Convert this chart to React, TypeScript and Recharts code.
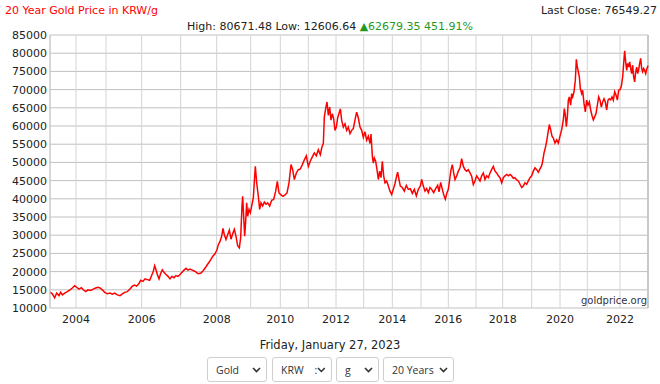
import { CartesianGrid, Line, LineChart, ReferenceLine, XAxis, YAxis } from "recharts";

// x is a running sample number along the chart (the source plots by session, not by calendar)
const sessions = [
  0, 7, 14, 20, 27, 32, 37, 44, 52, 60, 67, 74, 80, 87, 94, 100, 107, 114, 122, 130,
  137, 144, 150, 157, 164, 172, 180, 187, 194, 202, 210, 217, 224, 232, 240, 247, 254, 260, 267, 272,
  279, 285, 292, 299, 304, 310, 314, 318, 322, 327, 332, 337, 342, 348, 354, 360, 366, 372, 378, 384,
  390, 396, 402, 408, 414, 420, 427, 434, 442,
  445, 453, 460, 467, 475, 482, 489, 495, 501, 505, 510, 515, 519, 523, 528, 533, 538, 543, 548,
  553, 558, 563, 568, 572, 576, 578, 581, 584, 587, 590, 593, 597, 601, 605, 610, 614, 616, 620, 625,
  629, 633, 638, 643, 648, 653, 659, 665, 671, 677, 682, 687, 693, 699, 705, 711, 717, 723, 728, 733,
  739, 745, 751, 757, 763, 769, 775, 781, 787, 793, 799, 805, 811, 816, 820, 823, 827, 831, 835, 839,
  843, 847, 851, 855, 859, 863, 867, 871, 875, 880, 885,
  890, 895, 900, 905, 910, 915, 920, 925, 930, 935, 940, 945, 950, 955, 960, 963, 967, 970, 973, 977,
  981, 985, 989, 993, 997, 1001, 1005, 1010, 1015, 1020, 1025, 1030, 1035, 1040, 1043, 1047, 1051, 1057, 1063, 1069,
  1075, 1081, 1087, 1093, 1099, 1105, 1111, 1115, 1120, 1125, 1130, 1135, 1140, 1145, 1151, 1157, 1163, 1167, 1172, 1177,
  1182, 1186, 1191, 1195, 1199, 1203, 1207, 1211, 1215, 1220, 1225, 1230, 1235, 1240, 1245, 1250, 1255, 1260, 1265, 1270,
  1275, 1280, 1285, 1290, 1295, 1300, 1305, 1310, 1315, 1320, 1325, 1330, 1335, 1340, 1345,
  1350, 1355, 1360, 1365, 1370, 1375, 1380, 1385, 1390, 1395, 1400, 1405, 1410, 1415, 1420, 1425, 1430, 1435, 1440, 1445,
  1450, 1455, 1460, 1465, 1470, 1475, 1478, 1482, 1486, 1490, 1494, 1498, 1502, 1506, 1510, 1515, 1520, 1525, 1530, 1535,
  1540, 1543, 1546, 1549, 1552, 1555, 1558, 1562, 1565, 1568, 1572, 1576, 1579, 1582, 1585, 1588, 1591, 1595, 1598, 1602,
  1606, 1610, 1614, 1618, 1622, 1626, 1630, 1634, 1638, 1642, 1646, 1650, 1654, 1658, 1662, 1666, 1670, 1674, 1678, 1682,
  1686, 1690, 1694, 1698, 1702, 1706, 1710, 1714, 1718, 1721, 1724, 1727, 1730, 1733, 1736, 1739, 1742, 1745, 1748, 1751,
  1754, 1757, 1760, 1763, 1766, 1769, 1772, 1775, 1778, 1781, 1784, 1787, 1790, 1794,
];

const prices = [
  14360, 13900, 12800, 14100, 13400, 14300, 13600, 14100, 14500, 15000, 15500, 16100, 15700, 15200, 15600, 15000, 14500, 15000, 14800, 15200,
  15500, 15700, 15500, 15000, 14300, 13900, 14100, 13800, 14100, 13600, 13400, 13900, 14300, 14500, 15200, 16000, 16300, 16000, 16700, 17600,
  17300, 18000, 17800, 17600, 18700, 20100, 21600, 20500, 19200, 18000, 19500, 20500, 19800, 19200, 18700, 18000, 18700, 18300, 18900, 18700,
  19200, 19800, 20400, 20900, 20400, 20700, 20400, 20100, 19600,
  19400, 19600, 20300, 21200, 22300, 23200, 24300, 24900, 26000, 27400, 28300, 29700, 31900, 30100, 28800, 30100, 31400, 28900, 30400,
  31600, 29700, 27100, 26500, 29300, 38000, 40700, 35200, 29700, 33800, 38900, 35200, 37100, 36200, 38000, 40300, 46300, 48900, 44400, 40700,
  37100, 38900, 38000, 39100, 38500, 38900, 38000, 39600, 39800, 42100, 44800, 41600, 41100, 40700, 41100, 41600, 44400, 49400, 48000, 45300,
  47100, 48000, 48200, 49400, 50700, 51800, 48900, 50400, 51500, 52600, 51800, 53500, 52100, 54300, 55200, 62500, 64800, 66600, 62900, 65200,
  61600, 63400, 62000, 58800, 59700, 62200, 63500, 64700, 61600, 59700, 60600,
  58800, 59700, 57900, 58800, 59300, 61700, 63800, 62200, 59700, 58800, 56900, 58400, 56100, 57200, 55200, 57800, 51700, 49800, 51200, 50300,
  48000, 45300, 47600, 45800, 50300, 46300, 44400, 44900, 43500, 42100, 41200, 42600, 44200, 46300, 47300, 45300, 43500, 43100, 42100, 43700,
  42600, 42800, 41500, 42600, 40800, 42600, 43500, 45300, 43500, 42100, 42800, 41700, 43100, 42600, 41700, 42800, 43700, 41900, 44500, 42600,
  40900, 39900, 41700, 42600, 45300, 48000, 49400, 47100, 45300, 46300, 47600, 48500, 51000, 48900, 48000, 47600, 48000, 47100, 46200, 43900,
  44900, 46300, 45600, 44900, 46300, 47100, 45300, 46300, 45800, 47100, 48000, 48900, 47600, 47100, 46300,
  45800, 44400, 45800, 46300, 46700, 46300, 46700, 46300, 45600, 45800, 45200, 44900, 44000, 43100, 43500, 44400, 44000, 44900, 45800, 46300,
  47600, 48500, 48000, 47300, 48200, 49100, 50300, 52600, 54000, 55800, 58100, 60400, 59000, 57200, 56700, 55300, 56200, 55300, 57200, 59000,
  61700, 64800, 63000, 59800, 62500, 67100, 68000, 65700, 68900, 68000, 69400, 72600, 78300, 76200, 74900, 73500, 70300, 68900, 69800, 66200,
  63900, 67100, 65700, 66600, 64400, 62900, 61700, 62500, 63400, 65700, 68000, 67100, 65200, 66600, 67500, 66600, 64400, 67100, 67500, 67200,
  68000, 67100, 69400, 68500, 67100, 69800, 70000, 70900, 73500, 77200, 80671, 77600, 75300, 77200, 76200, 77600, 75800, 74400, 76700, 73500,
  72100, 74800, 76200, 74400, 75500, 77200, 78600, 75800, 74900, 75800, 75300, 74400, 75500, 76549,
];

const years = [2004, 2005, 2006, 2007, 2008, 2009, 2010, 2011, 2012, 2013, 2014, 2015, 2016, 2017, 2018, 2019, 2020, 2021, 2022];
const yearStartSessions = [78, 168, 275, 392, 500, 602, 691, 775, 858, 941, 1027, 1113, 1195, 1278, 1358, 1445, 1530, 1612, 1710];
const lastSession = 1794;

const priceTicks = [10000, 15000, 20000, 25000, 30000, 35000, 40000, 45000, 50000, 55000, 60000, 65000, 70000, 75000, 80000, 85000];

const data = sessions.map((s, i) => ({ session: s, price: prices[i] }));

const FONT = "'DejaVu Sans', Verdana, sans-serif";
const tickStyle = { fontFamily: FONT, fontSize: 11, fill: "#222" };

function yearLabel(session: number) {
  const i = yearStartSessions.indexOf(session);
  if (i < 0) return "";
  return years[i] % 2 === 0 ? String(years[i]) : "";
}

function Chevron() {
  return (
    <svg width="9" height="6" viewBox="0 0 9 6" style={{ display: "block" }}>
      <polyline points="1,1 4.5,4.5 8,1" fill="none" stroke="#333" strokeWidth="1.6" />
    </svg>
  );
}

function FakeSelect({ left, width, label }: { left: number; width: number; label: string }) {
  return (
    <div
      style={{
        position: "absolute",
        left,
        top: 357,
        width,
        height: 25,
        boxSizing: "border-box",
        border: "1px solid #cfcfcf",
        borderRadius: 3,
        background: "#fff",
        display: "flex",
        alignItems: "center",
        justifyContent: "space-between",
        padding: "0 5px 0 8px",
        fontFamily: "'Open Sans', sans-serif",
        fontSize: 10.5,
        color: "#333",
        whiteSpace: "pre",
      }}
    >
      <span>{label}</span>
      <Chevron />
    </div>
  );
}

export default function App() {
  return (
    <div style={{ position: "absolute", left: 0, top: 0, width: 660, height: 384, background: "#fff", fontFamily: FONT }}>
      <div style={{ position: "absolute", left: 5, top: 4, fontSize: 11, color: "#ff0000" }}>20 Year Gold Price in KRW/g</div>
      <div style={{ position: "absolute", right: 3, top: 4, fontSize: 11, color: "#222" }}>Last Close: 76549.27</div>
      <div style={{ position: "absolute", left: 0, width: 660, top: 20, textAlign: "center", fontSize: 11, color: "#222" }}>
        High: 80671.48 Low: 12606.64 <span style={{ color: "#1f9a1f" }}>▲62679.35 451.91%</span>
      </div>

      <div style={{ position: "absolute", left: 0, top: 0 }}>
        <LineChart width={660} height={330} data={data} margin={{ top: 35, right: 12, left: 0, bottom: 0 }}>
          <CartesianGrid vertical={false} stroke="#c0c0c0" />
          <CartesianGrid horizontal={false} stroke="#d4d4d4" />
          <XAxis
            dataKey="session"
            type="number"
            domain={[0, lastSession]}
            ticks={yearStartSessions}
            interval={0}
            tickFormatter={yearLabel}
            tickLine={false}
            tickSize={0}
            tickMargin={7}
            axisLine={false}
            height={22}
            tick={tickStyle}
          />
          <YAxis
            type="number"
            domain={[10000, 85000]}
            ticks={priceTicks}
            interval={0}
            tickLine={false}
            tickSize={0}
            tickMargin={3}
            axisLine={{ stroke: "#c4c4c4" }}
            width={50}
            tick={tickStyle}
          />
          <ReferenceLine x={lastSession} stroke="#c8c8c8" strokeWidth={2} />
          <Line type="linear" dataKey="price" stroke="#ff0000" strokeWidth={1.5} dot={false} isAnimationActive={false} />
        </LineChart>
      </div>

      <div style={{ position: "absolute", right: 13, top: 295, fontSize: 10, color: "#333344" }}>goldprice.org</div>

      <div style={{ position: "absolute", left: 0, width: 660, top: 338, textAlign: "center", fontSize: 11.5, color: "#222" }}>
        Friday, January 27, 2023
      </div>
      <FakeSelect left={207} width={60} label="Gold" />
      <FakeSelect left={272} width={60} label={"KRW    :"} />
      <FakeSelect left={336} width={43} label="g" />
      <FakeSelect left={383} width={71} label="20 Years" />
    </div>
  );
}
